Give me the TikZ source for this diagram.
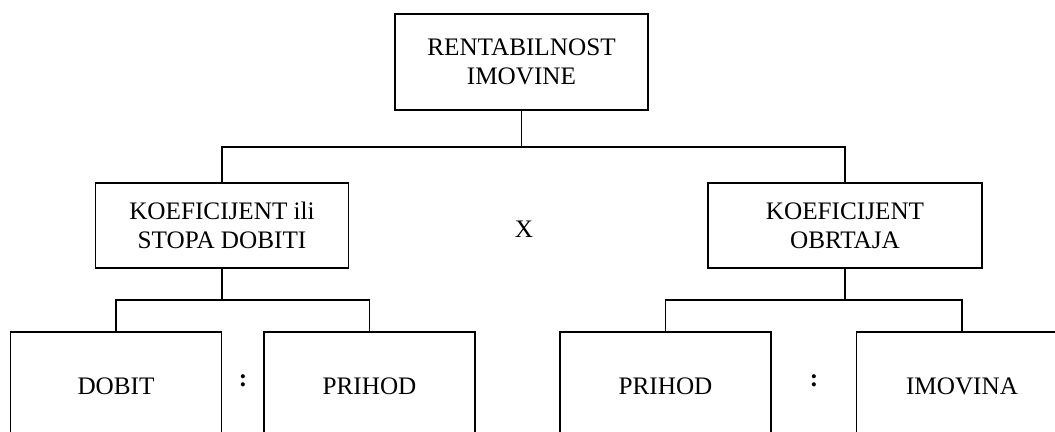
\documentclass[tikz,border=0pt]{standalone}
\usepackage{fontspec}
\setmainfont{Liberation Serif}
\usetikzlibrary{positioning}

\begin{document}
\begin{tikzpicture}[
  x=0.5pt, y=-0.5pt,
  font=\fontsize{12.6}{14.5}\selectfont,
  ratio/.style={draw, line width=0.85pt, fill=white, align=center, inner sep=0pt,
                minimum width=126.5pt, minimum height=48pt},
  factor/.style={draw, line width=0.85pt, fill=white, align=center, inner sep=0pt,
                 minimum height=42.5pt},
  item/.style={draw, line width=0.85pt, fill=white, align=center, inner sep=0pt,
               minimum width=105.5pt, minimum height=54pt},
  link/.style={line width=0.85pt},
  op/.style={inner sep=0pt},
]
\clip (0,0) rectangle (1055,432);

% ---------------- top ratio ------------------------------------------
\node[ratio] (rent) at (521.5,62) {RENTABILNOST\\IMOVINE};

% ---------------- the two factors ------------------------------------
\node[factor, minimum width=126.5pt] (stopa) at (222,225.5)
  {KOEFICIJENT ili\\STOPA DOBITI};
\node[factor, minimum width=137pt] (obrt) at (845,225.5)
  {KOEFICIJENT\\OBRTAJA};
\node[op] (puta) at (524,229) {X};

\coordinate (jtop) at (521.5,147);
\draw[link] (rent.south) -- (jtop);
\draw[link] (stopa.north) |- (jtop) -| (obrt.north);

% ---------------- numerators and denominators ------------------------
\node[item] (dobit)  at (116,386)   {DOBIT};
\node[item] (prih1)  at (369.5,386) {PRIHOD};
\node[item] (prih2)  at (665.5,386) {PRIHOD};
\node[item] (imov)   at (962,386)   {IMOVINA};
\node[op] (div1) at (243,381) {\textbf{:}};
\node[op] (div2) at (814,381) {\textbf{:}};

\coordinate (jleft)  at (222,300);
\coordinate (jright) at (845,300);
\draw[link] (stopa.south) -- (jleft);
\draw[link] (dobit.north) |- (jleft) -| (prih1.north);
\draw[link] (obrt.south) -- (jright);
\draw[link] (prih2.north) |- (jright) -| (imov.north);

\end{tikzpicture}
\end{document}
